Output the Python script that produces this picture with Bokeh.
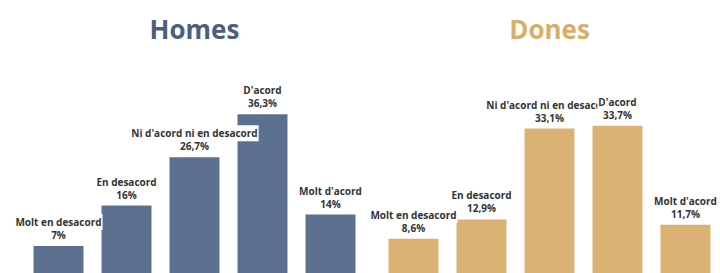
from bokeh.plotting import figure
from bokeh.layouts import row
from bokeh.models import Range1d, ColumnDataSource, Label
from bokeh.core.properties import value
from bokeh.embed import file_html
from bokeh.resources import INLINE

categories = ["Molt en desacord", "En desacord", "Ni d'acord ni en desacord", "D'acord", "Molt d'acord"]
homes = [7.0, 16.0, 26.7, 36.3, 14.0]
dones = [8.6, 12.9, 33.1, 33.7, 11.7]
homes_labels = ["7%", "16%", "26,7%", "36,3%", "14%"]
dones_labels = ["8,6%", "12,9%", "33,1%", "33,7%", "11,7%"]

FONT = "Open Sans"
LABEL_COLOR = "#333333"
HEIGHT = 273


def panel(title, vals, pct_labels, bar_color, title_color, x_start, x_end, width):
    p = figure(width=width, height=HEIGHT, output_backend="svg", toolbar_location=None,
               x_range=Range1d(x_start, x_end), y_range=Range1d(0.89, 61.56),
               x_axis_location=None, y_axis_location=None, min_border=0)
    p.grid.visible = False
    p.outline_line_color = None
    p.background_fill_color = "white"
    p.border_fill_color = "white"
    src = ColumnDataSource(dict(x=list(range(len(categories))), top=vals,
                                cat=categories, pct=pct_labels))
    p.vbar(x="x", top="top", bottom=0, width=0.735, source=src,
           fill_color=bar_color, line_color=None)
    for i in range(len(categories)):
        one = ColumnDataSource(dict(x=[i], y=[vals[i]], cat=[categories[i]], pct=[pct_labels[i]]))
        p.text(x="x", y="y", text="pct", source=one, text_font=value(FONT),
               text_font_style="bold", text_font_size="10px", text_color=LABEL_COLOR,
               text_align="center", text_baseline="middle", y_offset=-11,
               background_fill_color="white", padding=1)
        p.text(x="x", y="y", text="cat", source=one, text_font=value(FONT),
               text_font_style="bold", text_font_size="10px", text_color=LABEL_COLOR,
               text_align="center", text_baseline="middle", y_offset=-24,
               background_fill_color="white", padding=1)
    p.add_layout(Label(x=2, y=55.3, text=title, text_font=FONT, text_font_style="bold",
                       text_font_size="26px", text_color=title_color,
                       text_align="center", text_baseline="middle"))
    return p


p1 = panel("Homes", homes, homes_labels, "#5c718f", "#4b5f7d", -0.853, 4.5, 364)
p2 = panel("Dones", dones, dones_labels, "#dcb274", "#d8ae6b", -0.7206, 4.515, 356)

layout = row(p1, p2, spacing=0)
open("out.html", "w").write(file_html(layout, INLINE))
